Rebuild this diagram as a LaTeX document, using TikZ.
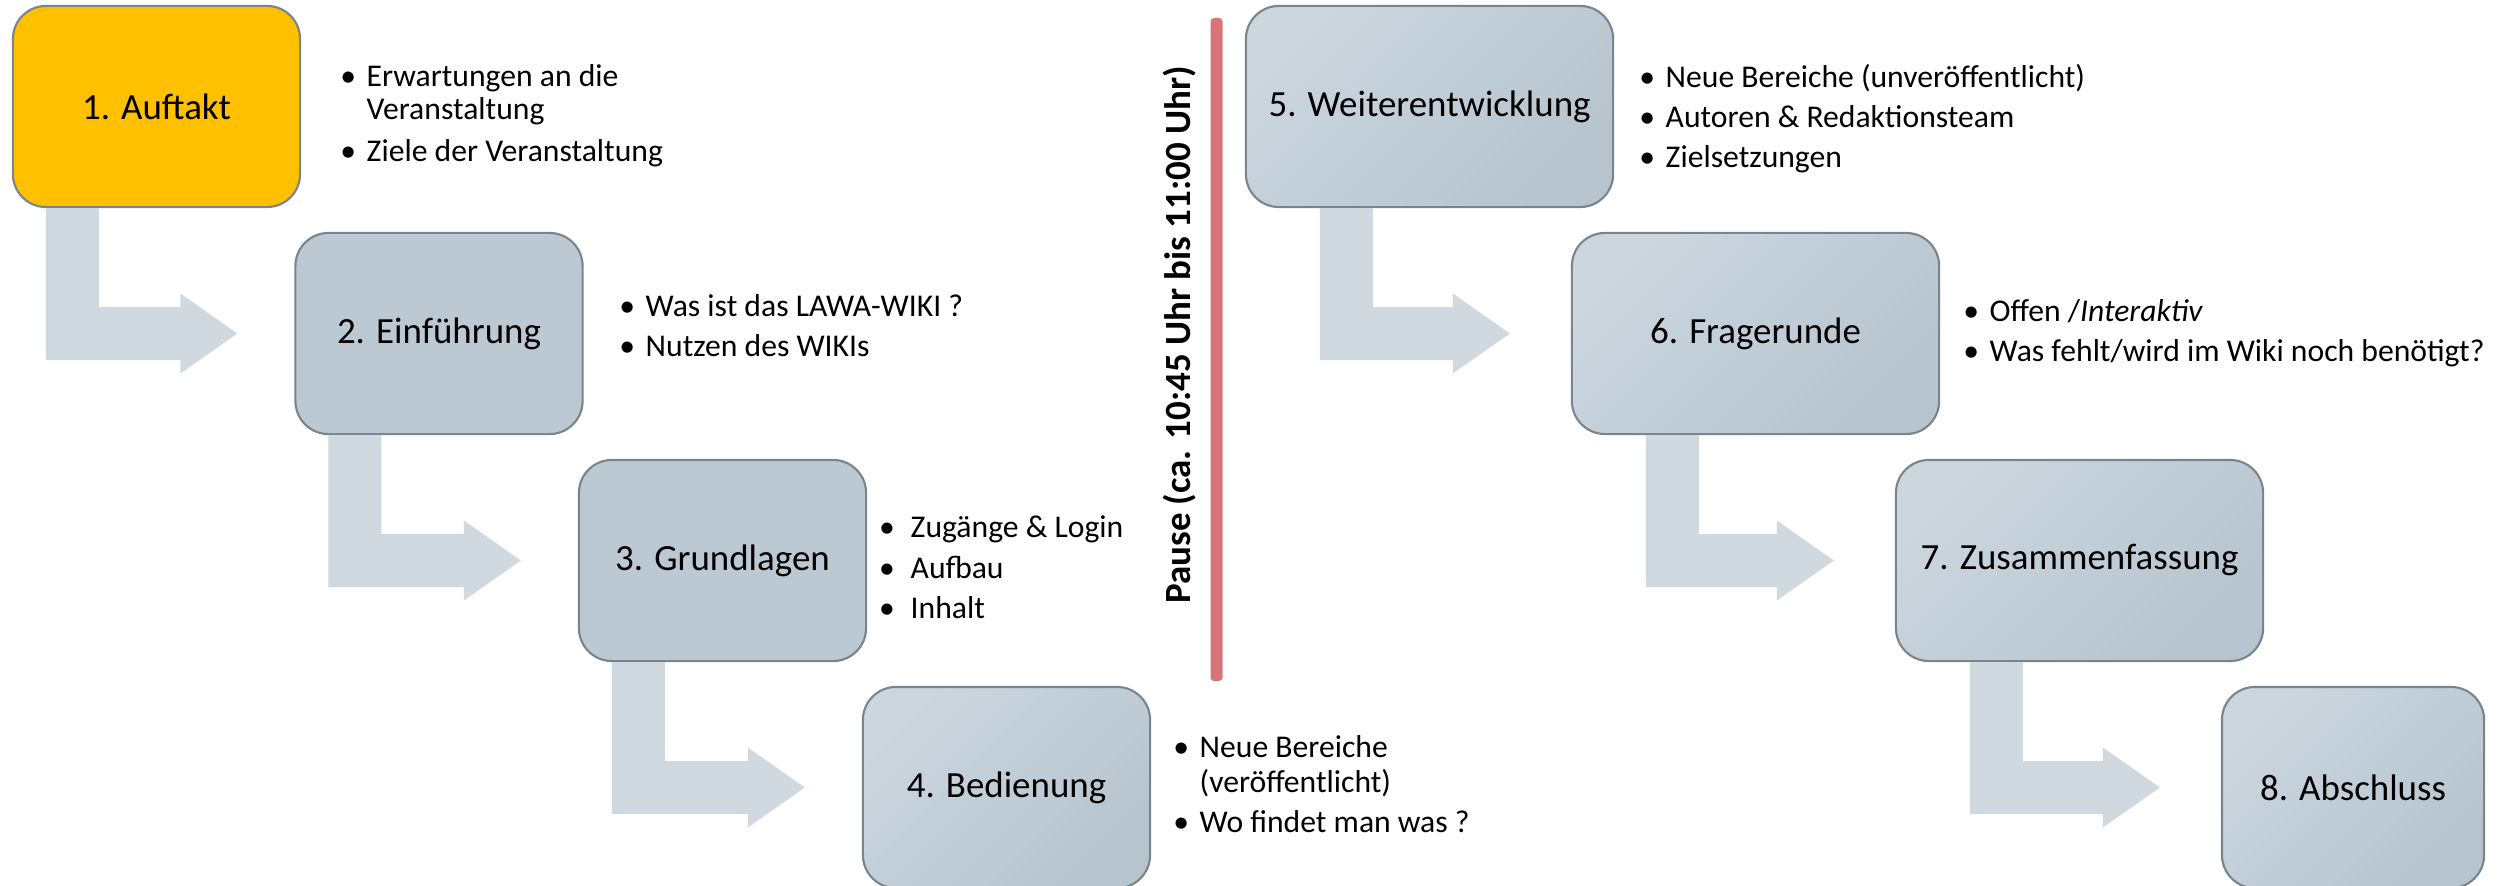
\documentclass[tikz,border=0pt]{standalone}
\usepackage{fontspec}
\setmainfont{Carlito}
\usetikzlibrary{calc}
\definecolor{gold}{HTML}{FFC000}
\definecolor{boxflat}{HTML}{BCC9D3}
\definecolor{boxlight}{HTML}{CBD6DF}
\definecolor{boxdark}{HTML}{B7C4CE}
\definecolor{arrowgrey}{HTML}{D1D9E0}
\definecolor{pausered}{HTML}{D87476}
\definecolor{boxedge}{HTML}{7A848C}
\newcommand\bitem[2][3pt]{\llap{\textbullet\hspace{#1}}#2}
% #1 source, #2 target, #3 stem offset, #4 gap before target
\newcommand\bentarrow[4]{%
  \coordinate (#1s1) at ($(#1.south west)+(#3,0)$);
  \coordinate (#1s2) at ($(#1.south west)+(#3+53,0)$);
  \coordinate (#1tp) at ($(#2.west)+(-#4,0)$);
  \coordinate (#1hb) at ($(#1tp)+(-57,0)$);
  \fill[arrowfill] (#1s1) -- (#1s2) -- ($(#1s2 |- #1tp)+(0,-26.5)$)
    -- ($(#1hb)+(0,-26.5)$) -- ($(#1hb)+(0,-40)$) -- (#1tp)
    -- ($(#1hb)+(0,40)$) -- ($(#1hb)+(0,26.5)$)
    -- ($(#1s1 |- #1tp)+(0,26.5)$) -- cycle;}
\tikzset{
  stage/.style={draw=boxedge, line width=0.6pt, rounded corners=0.33cm,
    minimum height=2.01cm, inner sep=0pt, text=black,
    font=\fontsize{10.5}{12.6}\selectfont},
  narrowstage/.style={stage, minimum width=2.87cm},
  widestage/.style={stage, minimum width=3.67cm},
  flatbox/.style={fill=boxflat},
  gradbox/.style={top color=boxlight, bottom color=boxdark, shading angle=45},
  goldbox/.style={fill=gold},
  bul/.style={anchor=base west, inner sep=0pt, text=black,
    font=\fontsize{9}{10.8}\selectfont},
  arrowfill/.style={fill=arrowgrey},
  pauseline/.style={fill=pausered, rounded corners=1pt},
  pausetext/.style={rotate=90, anchor=base, inner sep=0pt,
    font=\bfseries\fontsize{10.5}{12.6}\selectfont}
}
\begin{document}
\begin{tikzpicture}[x=0.01cm, y=-0.01cm]
\useasboundingbox (0,0) rectangle (2504,885);

% stages
\node[narrowstage, goldbox] (b1) at (156.5,106.5) {1. Auftakt};
\node[narrowstage, flatbox] (b2) at (439,333.5) {2. Einführung};
\node[narrowstage, flatbox] (b3) at (722.5,560.5) {3. Grundlagen};
\node[narrowstage, gradbox] (b4) at (1006.5,787.5) {4. Bedienung};
\node[widestage, gradbox] (b5) at (1429.5,106.5) {5. Weiterentwicklung};
\node[widestage, gradbox] (b6) at (1755.5,333.5) {6. Fragerunde};
\node[widestage, gradbox] (b7) at (2079.5,560.5) {7. Zusammenfassung};
\node[stage, minimum width=2.62cm, gradbox] (b8) at (2353,787.5) {8. Abschluss};

% bent arrows
\bentarrow{b1}{b2}{34}{57}
\bentarrow{b2}{b3}{34}{57}
\bentarrow{b3}{b4}{34}{57}
\bentarrow{b5}{b6}{75}{61}
\bentarrow{b6}{b7}{75}{61}
\bentarrow{b7}{b8}{75}{61}

% bullets
\node[bul] (t1a) at (366,87) {\bitem{Erwartungen an die}};
\node[bul] (t1b) at (366,120) {Veranstaltung};
\node[bul] (t1c) at (366,162) {\bitem{Ziele der Veranstaltung}};

\node[bul] (t2a) at (645,316) {\bitem{Was ist das LAWA-WIKI ?}};
\node[bul] (t2b) at (645,356) {\bitem{Nutzen des WIKIs}};

\node[bul] (t3a) at (910,537) {\bitem[4.5pt]{Zugänge \& Login}};
\node[bul] (t3b) at (910,578) {\bitem[4.5pt]{Aufbau}};
\node[bul] (t3c) at (910,618) {\bitem[4.5pt]{Inhalt}};

\node[bul] (t4a) at (1199,757) {\bitem{Neue Bereiche}};
\node[bul] (t4b) at (1199,792) {(veröffentlicht)};
\node[bul] (t4c) at (1199,832) {\bitem{Wo findet man was ?}};

\node[bul] (t5a) at (1665,88) {\bitem{Neue Bereiche (unveröffentlicht)}};
\node[bul] (t5b) at (1665,128) {\bitem{Autoren \& Redaktionsteam}};
\node[bul] (t5c) at (1665,168) {\bitem{Zielsetzungen}};

\node[bul] (t6a) at (1989,321) {\bitem{Offen /\textit{Interaktiv}}};
\node[bul] (t6b) at (1989,361) {\bitem{Was fehlt/wird im Wiki noch benötigt?}};

% pause
\coordinate (pl1) at (1210.5,18);
\coordinate (pl2) at (1222.5,681);
\fill[pauseline] (pl1) rectangle (pl2);
\node[pausetext] (pause) at (1190,335) {Pause (ca. 10:45 Uhr bis 11:00 Uhr)};
\end{tikzpicture}
\end{document}
